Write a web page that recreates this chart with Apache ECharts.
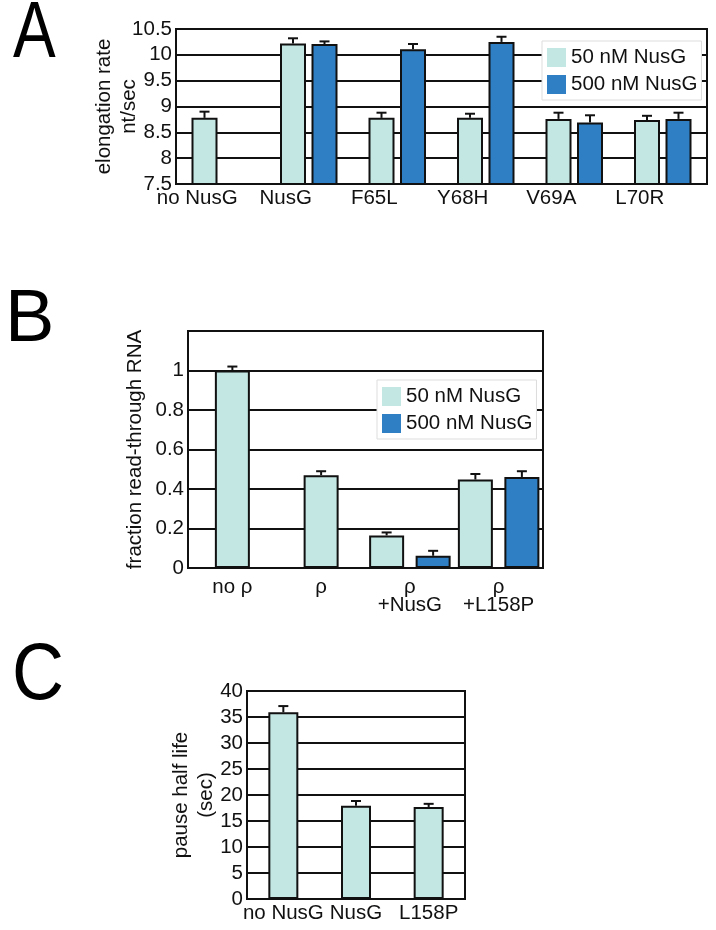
<!DOCTYPE html>
<html>
<head>
<meta charset="utf-8">
<script src="https://cdn.jsdelivr.net/npm/echarts@6/dist/echarts.min.js"></script>
<style>
html,body{margin:0;padding:0;background:#fff;}
#main{width:716px;height:930px;}
</style>
</head>
<body>
<div id="main"></div>
<script>
// panel A - elongation rate
var catsA = ['no NusG', 'NusG', 'F65L', 'Y68H', 'V69A', 'L70R'];
var lightA = [8.78, 10.22, 8.78, 8.78, 8.76, 8.74];
var lightErrA = [0.12, 0.1, 0.1, 0.08, 0.12, 0.08];
var darkA = [null, 10.21, 10.11, 10.25, 8.69, 8.76];
var darkErrA = [null, 0.05, 0.1, 0.1, 0.14, 0.12];

// panel B - fraction read-through
var catsB = ['no ρ', 'ρ', 'ρ\n+NusG', 'ρ\n+L158P'];
var lightB = [1.0, 0.47, 0.165, 0.448];
var lightErrB = [0.02, 0.02, 0.015, 0.028];
var darkB = [null, null, 0.062, 0.461];
var darkErrB = [null, null, 0.025, 0.029];

// panel C - pause half life
var catsC = ['no NusG', 'NusG', 'L158P'];
var valsC = [35.9, 17.95, 17.7];
var errC = [1.2, 0.9, 0.6];

var LIGHT = '#c3e7e3';
var DARK = '#2f7fc5';
var INK = '#111';
var FONT = '"Liberation Sans", Arial, sans-serif';
var FS = 20.5;

var chart = echarts.init(document.getElementById('main'));

function errData(vals, errs, keep) {
    var out = [];
    for (var i = 0; i < vals.length; i++) {
        if (vals[i] == null || errs[i] == null) continue;
        if (keep && !keep(i)) continue;
        out.push([i, vals[i], vals[i] + errs[i]]);
    }
    return out;
}

function errSeries(data, xi, yi, offset) {
    return {
        type: 'custom',
        xAxisIndex: xi,
        yAxisIndex: yi,
        z: 5,
        silent: true,
        data: data,
        renderItem: function (params, api) {
            var lo = api.coord([api.value(0), api.value(1)]);
            var hi = api.coord([api.value(0), api.value(2)]);
            var cx = lo[0] + offset;
            return {
                type: 'group',
                children: [
                    {type: 'line', shape: {x1: cx, y1: lo[1], x2: cx, y2: hi[1]}, style: {stroke: INK, lineWidth: 2}},
                    {type: 'line', shape: {x1: cx - 5, y1: hi[1], x2: cx + 5, y2: hi[1]}, style: {stroke: INK, lineWidth: 2}}
                ]
            };
        }
    };
}

function yAx(grid, min, max, step, name, gap, fmt) {
    return {
        type: 'value', gridIndex: grid, min: min, max: max, interval: step,
        name: name, nameLocation: 'middle', nameRotate: 90, nameGap: gap,
        nameMoveOverlap: false,
        nameTextStyle: {fontSize: FS, color: INK, fontFamily: FONT, lineHeight: 25},
        axisLine: {show: true, lineStyle: {color: INK, width: 2}},
        axisTick: {show: false},
        axisLabel: {fontSize: FS, color: INK, fontFamily: FONT, margin: 4, formatter: fmt},
        splitLine: {lineStyle: {color: INK, width: 2}}
    };
}

function xAx(grid, cats, lab) {
    return {
        type: 'category', gridIndex: grid, data: cats,
        axisLine: {show: true, lineStyle: {color: INK, width: 2}},
        axisTick: {show: false},
        axisLabel: Object.assign({fontSize: FS, color: INK, fontFamily: FONT, interval: 0}, lab)
    };
}

function legendAt(left, top) {
    return {
        data: ['50 nM NusG', '500 nM NusG'], orient: 'vertical', left: left, top: top,
        itemWidth: 19, itemHeight: 19, itemGap: 6, padding: [6, 4, 5, 5],
        backgroundColor: '#fff', borderColor: '#ddd', borderWidth: 1,
        icon: 'rect', itemStyle: {borderWidth: 0},
        textStyle: {fontSize: FS, color: INK, fontFamily: FONT}
    };
}

// panel letters
function letter(t, x, y, size, sx) {
    return {
        type: 'text', x: x, y: y, scaleX: sx,
        style: {text: t, fill: '#000', font: size + 'px "Liberation Sans", Arial', textVerticalAlign: 'top'}
    };
}

// pair offsets
var wA = 26, gapA = 5.5;
var offA = (wA + gapA) / 2;
var wB = 35, gapB = 11.5;
var offB = (wB + gapB) / 2;

var barStyle = function (c) {
    return {color: c, borderColor: INK, borderWidth: 2};
};

var pairB = function (i) { return darkB[i] != null; };
var singleB = function (i) { return darkB[i] == null; };

option = {
    backgroundColor: '#fff',
    animation: false,
    graphic: [
        letter('A', 13, -5, 80, 0.8),
        letter('B', 5, 284, 74, 1),
        letter('C', 12, 637, 80, 0.9)
    ],
    legend: [legendAt(542, 41), legendAt(377, 380)],
    grid: [
        {left: 176, right: 9, top: 29, height: 155, show: true, borderColor: INK, borderWidth: 2},
        {left: 188, right: 173, top: 331, height: 237, show: true, borderColor: INK, borderWidth: 2},
        {left: 247, right: 251, top: 691, height: 208, show: true, borderColor: INK, borderWidth: 2}
    ],
    xAxis: [
        xAx(0, catsA, {margin: 4, padding: [0, 46, 0, 0]}),
        xAx(1, catsB, {margin: 10, lineHeight: 18}),
        {type: 'category', gridIndex: 1, data: catsB, show: false},
        xAx(2, catsC, {margin: 4})
    ],
    yAxis: [
        yAx(0, 7.5, 10.5, 0.5, 'elongation rate\nnt/sec', 34),
        yAx(1, 0, 1.2, 0.2, 'fraction read-through RNA', 40, function (v) { return v > 1.1 ? '' : String(+v.toFixed(1)); }),
        yAx(2, 0, 40, 5, 'pause half life\n(sec)', 28)
    ],
    series: [
        // A
        {name: '50 nM NusG', type: 'bar', xAxisIndex: 0, yAxisIndex: 0, data: lightA, barWidth: wA, barGap: (gapA / wA * 100) + '%', itemStyle: barStyle(LIGHT)},
        {name: '500 nM NusG', type: 'bar', xAxisIndex: 0, yAxisIndex: 0, data: darkA, barWidth: wA, itemStyle: barStyle(DARK)},
        errSeries(errData(lightA, lightErrA), 0, 0, -offA),
        errSeries(errData(darkA, darkErrA), 0, 0, offA),
        // B pairs
        {name: '50 nM NusG', type: 'bar', xAxisIndex: 1, yAxisIndex: 1,
            data: lightB.map(function (v, i) { return pairB(i) ? v : null; }),
            barWidth: wB, barGap: (gapB / wB * 100) + '%', itemStyle: barStyle(LIGHT)},
        {name: '500 nM NusG', type: 'bar', xAxisIndex: 1, yAxisIndex: 1, data: darkB, barWidth: wB, itemStyle: barStyle(DARK)},
        // B singles, centred on their label
        {name: '50 nM NusG', type: 'bar', xAxisIndex: 2, yAxisIndex: 1,
            data: lightB.map(function (v, i) { return singleB(i) ? v : null; }),
            barWidth: wB, itemStyle: barStyle(LIGHT)},
        errSeries(errData(lightB, lightErrB, pairB), 1, 1, -offB),
        errSeries(errData(darkB, darkErrB), 1, 1, offB),
        errSeries(errData(lightB, lightErrB, singleB), 1, 1, 0),
        // C
        {name: 'pause', type: 'bar', xAxisIndex: 3, yAxisIndex: 2, data: valsC, barWidth: 30, itemStyle: barStyle(LIGHT)},
        errSeries(errData(valsC, errC), 3, 2, 0)
    ]
};

chart.setOption(option);
</script>
</body>
</html>
